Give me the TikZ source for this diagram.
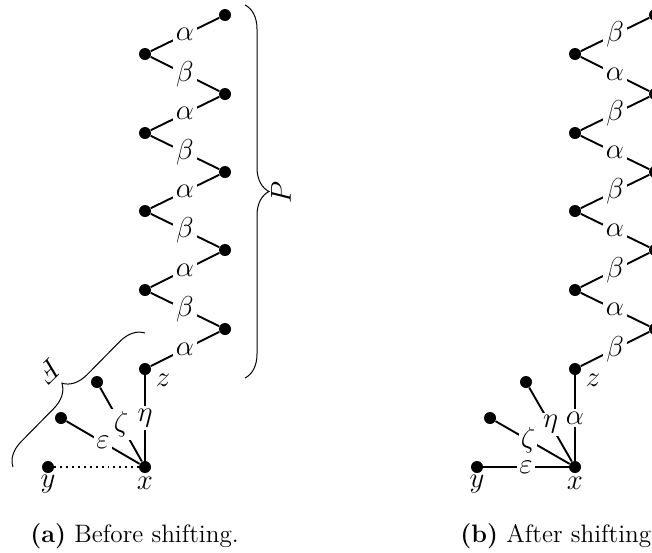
\documentclass[tikz,border=0pt]{standalone}
\usetikzlibrary{decorations.pathreplacing}
\begin{document}
\begin{tikzpicture}[x=0.5pt,y=-0.5pt,
  dot/.style={circle, fill=black, inner sep=0pt, minimum size=6pt},
  lnk/.style={line width=0.95pt},
  elbl/.style={fill=white, inner sep=1.4pt, font=\fontsize{15.5}{18}\selectfont},
  vlbl/.style={inner sep=1.2pt, font=\fontsize{15.5}{18}\selectfont},
  brc/.style={decorate, decoration={brace, amplitude=12pt}, line width=0.5pt},
  captxt/.style={inner sep=0pt, font=\fontsize{12.6}{15}\selectfont},
]
\useasboundingbox (0,0) rectangle (652,552);
\clip (0,0) rectangle (652,552);

% ---------- panel (a) ----------
\node[dot] (aR1) at (225,15) {};
\node[dot] (aL1) at (145,54) {};
\node[dot] (aR2) at (225,94) {};
\node[dot] (aL2) at (145,133) {};
\node[dot] (aR3) at (225,172) {};
\node[dot] (aL3) at (145,211) {};
\node[dot] (aR4) at (225,250) {};
\node[dot] (aL4) at (145,290) {};
\node[dot] (aR5) at (225,329) {};
\node[dot] (az) at (145,369) {};
\node[dot] (ax) at (145,467) {};
\node[dot] (ay) at (48,467) {};
\node[dot] (ae) at (61,418) {};
\node[dot] (azt) at (97,382) {};
\node[vlbl] (azl) at (163,380) {$z$};
\node[vlbl] (axl) at (145,483) {$x$};
\node[vlbl] (ayl) at (48,484) {$y$};

\draw[lnk] (aR1) -- node[elbl] {$\alpha$} (aL1);
\draw[lnk] (aL1) -- node[elbl] {$\beta$} (aR2);
\draw[lnk] (aR2) -- node[elbl] {$\alpha$} (aL2);
\draw[lnk] (aL2) -- node[elbl] {$\beta$} (aR3);
\draw[lnk] (aR3) -- node[elbl] {$\alpha$} (aL3);
\draw[lnk] (aL3) -- node[elbl] {$\beta$} (aR4);
\draw[lnk] (aR4) -- node[elbl] {$\alpha$} (aL4);
\draw[lnk] (aL4) -- node[elbl] {$\beta$} (aR5);
\draw[lnk] (aR5) -- node[elbl] {$\alpha$} (az);
\draw[lnk] (az) -- node[elbl] {$\eta$} (ax);
\draw[lnk] (azt) -- node[elbl] {$\zeta$} (ax);
\draw[lnk] (ae) -- node[elbl] {$\varepsilon$} (ax);
\draw[lnk, dotted] (ay) -- (ax);

\coordinate (bF1) at (13,467);
\coordinate (bF2) at (145,333);
\draw[brc] (bF1) -- (bF2);
\node[vlbl, rotate=-135] (lF) at (49,371) {$F$};

\coordinate (bP1) at (245,5);
\coordinate (bP2) at (245,378);
\draw[brc] (bP1) -- (bP2);
\node[vlbl, rotate=90] (lP) at (281,192) {$P$};

\node[captxt, anchor=base west] (capa) at (30,542) {\textbf{(a)} Before shifting.};

% ---------- panel (b) ----------
\node[dot] (bR1) at (655,15) {};
\node[dot] (bL1) at (575,54) {};
\node[dot] (bR2) at (655,94) {};
\node[dot] (bL2) at (575,133) {};
\node[dot] (bR3) at (655,172) {};
\node[dot] (bL3) at (575,211) {};
\node[dot] (bR4) at (655,250) {};
\node[dot] (bL4) at (575,290) {};
\node[dot] (bR5) at (655,329) {};
\node[dot] (bz) at (575,369) {};
\node[dot] (bx) at (575,467) {};
\node[dot] (by) at (477,467) {};
\node[dot] (bzt) at (490,418) {};
\node[dot] (bet) at (526,382) {};
\node[vlbl] (bzl) at (593,380) {$z$};
\node[vlbl] (bxl) at (575,483) {$x$};
\node[vlbl] (byl) at (477,484) {$y$};

\draw[lnk] (bR1) -- node[elbl] {$\beta$} (bL1);
\draw[lnk] (bL1) -- node[elbl] {$\alpha$} (bR2);
\draw[lnk] (bR2) -- node[elbl] {$\beta$} (bL2);
\draw[lnk] (bL2) -- node[elbl] {$\alpha$} (bR3);
\draw[lnk] (bR3) -- node[elbl] {$\beta$} (bL3);
\draw[lnk] (bL3) -- node[elbl] {$\alpha$} (bR4);
\draw[lnk] (bR4) -- node[elbl] {$\beta$} (bL4);
\draw[lnk] (bL4) -- node[elbl] {$\alpha$} (bR5);
\draw[lnk] (bR5) -- node[elbl] {$\beta$} (bz);
\draw[lnk] (bz) -- node[elbl] {$\alpha$} (bx);
\draw[lnk] (bet) -- node[elbl] {$\eta$} (bx);
\draw[lnk] (bzt) -- node[elbl, inner sep=1pt, pos=0.44] {$\zeta$} (bx);
\draw[lnk] (by) -- node[elbl] {$\varepsilon$} (bx);

\node[captxt, anchor=base west] (capb) at (460,542) {\textbf{(b)} After shifting};
\end{tikzpicture}
\end{document}
